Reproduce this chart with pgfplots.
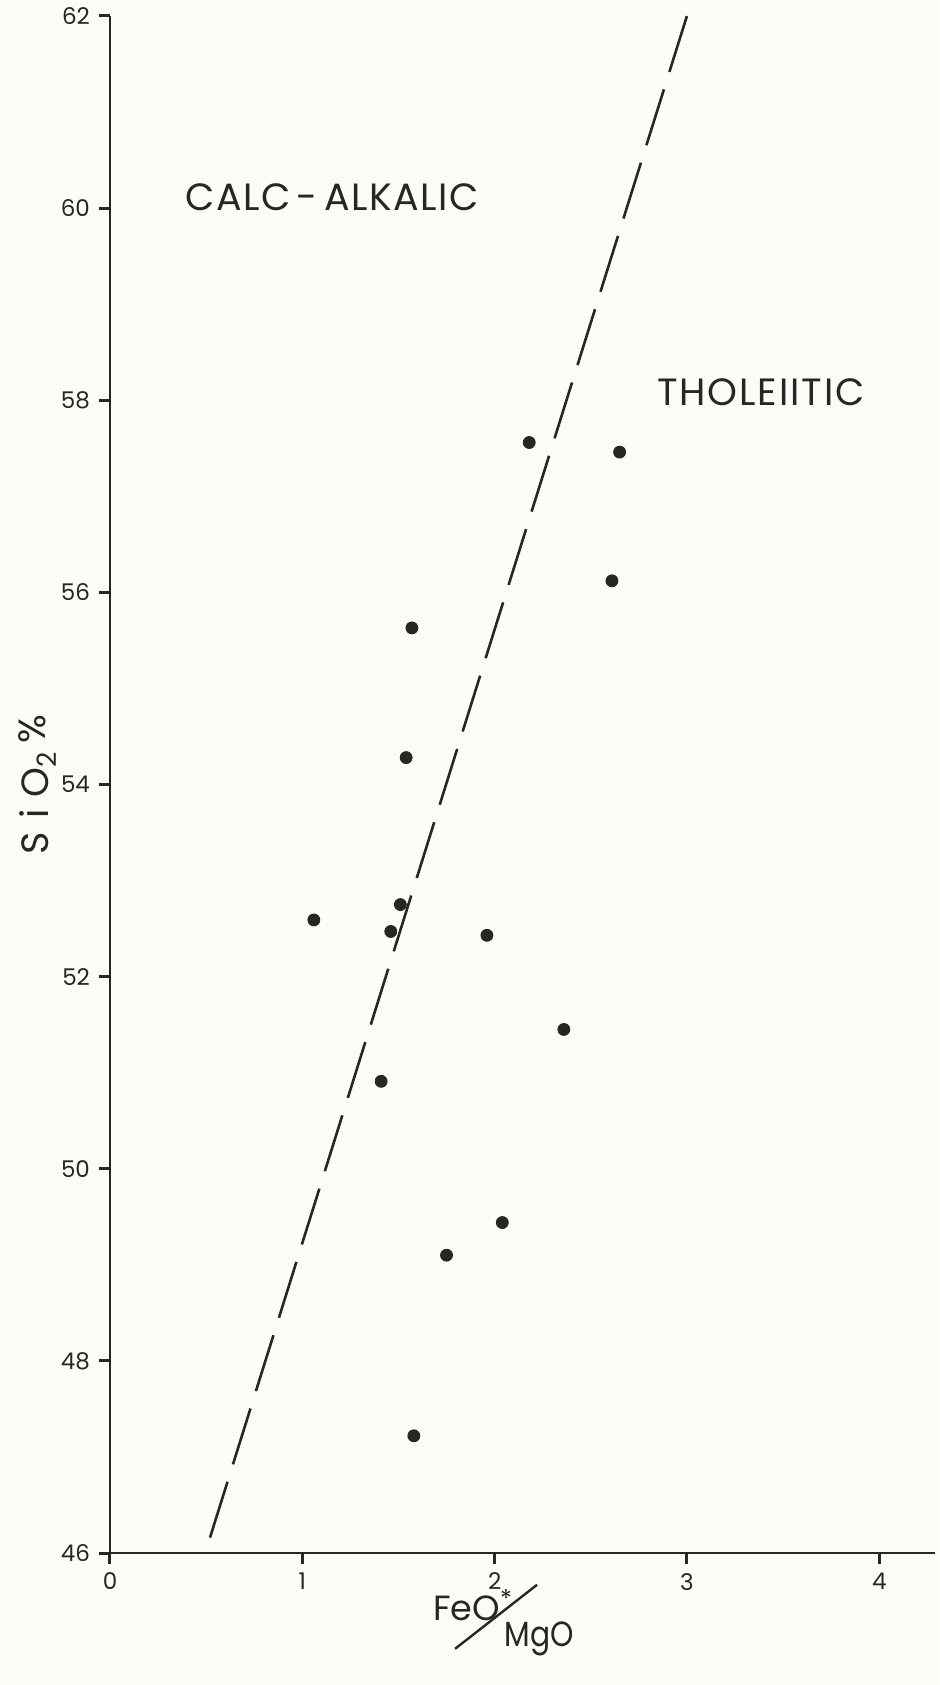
\documentclass[border=0pt]{standalone}
\usepackage{pgfplots}
\pgfplotsset{compat=1.18}
\usepackage{fontspec}
\setmainfont{Poppins}
\usepackage{graphicx}
\definecolor{ink}{RGB}{38,38,38}
\definecolor{paper}{RGB}{252,252,246}

\pgfplotstableread{
x y
2.18 57.56
2.65 57.46
2.61 56.12
1.57 55.63
1.54 54.28
1.06 52.59
1.51 52.75
1.46 52.47
1.96 52.43
2.36 51.45
1.41 50.91
2.04 49.44
1.75 49.10
1.58 47.22
}\samples

\pgfplotstableread{
x y
0.52 46.16
3.00 62.00
}\boundary

\begin{document}
\begin{tikzpicture}
\fill[paper] (-55pt,-66pt) rectangle (414.5pt,776.5pt);
\begin{axis}[
  at={(0,0)}, anchor=south west,
  scale only axis, width=412.5pt, height=768.5pt,
  xmin=0, xmax=4.29, ymin=46, ymax=62,
  axis x line=bottom, axis y line=left,
  axis line style={-, line width=1.4pt, ink},
  xtick={0,1,2,3,4}, ytick={46,48,...,62},
  xtick align=outside, ytick align=outside,
  major tick length=5.5pt,
  major tick style={draw=ink, line width=1.5pt},
  /pgf/number format/assume math mode=true,
  ticklabel style={font=\fontsize{11.5}{12}\selectfont, text=ink},
  yticklabel style={anchor=east, xshift=-1pt},
  xticklabel style={yshift=-1pt},
  ylabel={S\hspace{7pt}i\hspace{6pt}O\textsubscript{2}\hspace{4pt}\raisebox{0.1em}{\%}},
  ylabel style={at={(axis description cs:-0.088,0.5)}, anchor=center,
    font=\fontsize{19}{20}\selectfont, text=ink},
  xlabel={\raisebox{13pt}{FeO\textsuperscript{*}}\kern-8.5pt\makebox[0pt]{\raisebox{14pt}{\rotatebox[origin=c]{38}{\rule{52pt}{1.2pt}}}}\kern4.3pt\scalebox{0.85}[1]{MgO}},
  xlabel style={at={(axis description cs:0.477,0)}, anchor=base, yshift=-46.5pt,
    font=\fontsize{17.5}{20}\selectfont, text=ink},
  clip=false,
]
\addplot[ink, line width=1.3pt, dash pattern=on 29.26pt off 9.14pt] table[x=x,y=y]{\boundary};
\addplot[only marks, mark=*, mark size=3pt, ink, mark options={fill=ink, draw=ink}] table[x=x,y=y]{\samples};
\node[font=\fontsize{19}{20}\selectfont\addfontfeature{LetterSpace=4}, text=ink] at (axis cs:1.154,60.11) {CALC\,-\,ALKALIC};
\node[font=\fontsize{19}{20}\selectfont\addfontfeature{LetterSpace=5}, text=ink] at (axis cs:3.385,58.08) {THOLEIITIC};
\end{axis}
\pgfresetboundingbox
\useasboundingbox (-55pt,-66pt) rectangle (414.5pt,776.5pt);
\end{tikzpicture}
\end{document}
